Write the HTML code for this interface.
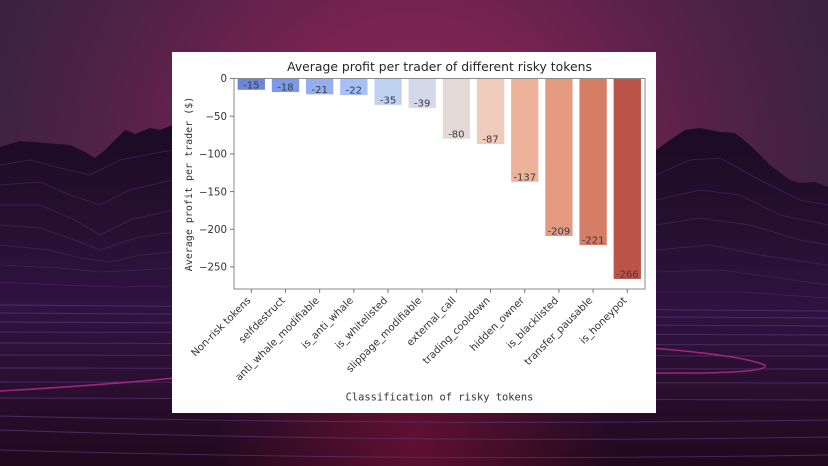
<!DOCTYPE html>
<html><head><meta charset="utf-8"><style>
html,body{margin:0;padding:0;background:#2a1030;}
svg{display:block;}
</style></head><body>
<svg width="828" height="466" viewBox="0 0 828 466" xmlns="http://www.w3.org/2000/svg">
<defs>
<radialGradient id="sky" cx="414" cy="170" r="470" gradientUnits="userSpaceOnUse">
<stop offset="0" stop-color="#922a5e"/>
<stop offset="0.35" stop-color="#74234f"/>
<stop offset="0.7" stop-color="#4e2246"/>
<stop offset="1" stop-color="#35223f"/>
</radialGradient>
<linearGradient id="mtn" x1="0" y1="0" x2="0" y2="1">
<stop offset="0" stop-color="#1c0b24"/>
<stop offset="0.5" stop-color="#24102e"/>
<stop offset="1" stop-color="#2e1340"/>
</linearGradient>
<linearGradient id="ground" x1="0" y1="0" x2="0" y2="1">
<stop offset="0" stop-color="#2f1444"/>
<stop offset="0.5" stop-color="#2a0f30"/>
<stop offset="1" stop-color="#22081c"/>
</linearGradient>
<radialGradient id="gglow" cx="414" cy="440" r="200" gradientUnits="userSpaceOnUse">
<stop offset="0" stop-color="#6a1232" stop-opacity="0.85"/>
<stop offset="1" stop-color="#6a1232" stop-opacity="0"/>
</radialGradient>
</defs>

<!-- background -->
<rect x="0" y="0" width="828" height="466" fill="url(#sky)"/>
<rect x="0" y="300" width="828" height="166" fill="url(#ground)"/>
<rect x="0" y="300" width="828" height="166" fill="url(#gglow)"/>
<!-- left mountain -->
<polygon fill="url(#mtn)" points="0,147 20,141 45,143 70,145 85,152 95,158 105,150 125,130 135,134 150,128 160,130 175,124 190,150 190,302 0,302"/>
<!-- right mountain -->
<polygon fill="url(#mtn)" points="640,160 656,150 670,140 685,130 700,128 720,132 735,133 750,145 770,165 790,180 800,183 815,182 828,187 828,312 640,312"/>
<!-- contour lines on mountains -->
<g fill="none" stroke="#4a2a62" stroke-width="0.8" opacity="0.7">
<polyline points="0,165 30,160 60,168 90,175 120,160 172,150"/>
<polyline points="0,185 40,182 70,195 100,205 130,190 172,180"/>
<polyline points="0,205 40,205 75,220 100,235 130,220 172,210"/>
<polyline points="0,225 40,228 75,240 100,250 135,238 172,232"/>
<polyline points="0,245 50,250 80,258 110,262 140,255 172,252"/>
<polyline points="0,265 60,268 100,272 140,270 172,268"/>
<polyline points="0,282 60,285 120,287 172,286"/>
<polyline points="656,175 690,160 720,158 760,180 800,200 828,205"/>
<polyline points="656,200 700,190 740,195 780,215 828,225"/>
<polyline points="656,225 700,218 750,225 800,240 828,245"/>
<polyline points="656,250 710,245 760,255 828,265"/>
<polyline points="656,272 720,270 780,278 828,285"/>
<polyline points="656,292 740,292 828,298"/>
</g>
<!-- ground lines -->
<g fill="none" stroke="#5e3c80" stroke-width="0.9" opacity="0.65">
<line x1="0" y1="305" x2="828" y2="311"/>
<line x1="0" y1="313" x2="828" y2="318"/>
<line x1="0" y1="322" x2="828" y2="326"/>
<line x1="0" y1="332" x2="828" y2="335"/>
<line x1="0" y1="343" x2="828" y2="345"/>
<line x1="0" y1="355" x2="828" y2="356"/>
<line x1="0" y1="368" x2="828" y2="369"/>
<line x1="0" y1="382" x2="828" y2="383"/>
<line x1="0" y1="398" x2="828" y2="400"/>
<path d="M0,416 Q414,426 828,420"/>
<path d="M0,430 Q414,444 828,437"/>
<path d="M0,450 Q414,462 828,455"/>
</g>
<!-- pink curves -->
<path d="M0,391 Q90,386 175,378" fill="none" stroke="#b42a8a" stroke-width="1.6" opacity="0.85"/>
<path d="M650,348 Q740,355 765,365 Q770,372 700,373 L650,373" fill="none" stroke="#b42a8a" stroke-width="1.4" opacity="0.85"/>

<!-- white panel -->
<rect x="172" y="52" width="484" height="361" fill="#ffffff"/>

<!-- bars -->
<g>
<rect x="237.65" y="78.5" width="27.3" height="11.3" fill="#6a86da"/>
<rect x="271.83" y="78.5" width="27.3" height="13.57" fill="#7d98e4"/>
<rect x="306.01" y="78.5" width="27.3" height="15.83" fill="#94aeef"/>
<rect x="340.19" y="78.5" width="27.3" height="16.58" fill="#a6bff5"/>
<rect x="374.37" y="78.5" width="27.3" height="26.38" fill="#c0d2f2"/>
<rect x="408.55" y="78.5" width="27.3" height="29.39" fill="#d3d9e8"/>
<rect x="442.73" y="78.5" width="27.3" height="60.3" fill="#e4dad5"/>
<rect x="476.91" y="78.5" width="27.3" height="65.57" fill="#f0cabb"/>
<rect x="511.09" y="78.5" width="27.3" height="103.26" fill="#ecb39a"/>
<rect x="545.27" y="78.5" width="27.3" height="157.52" fill="#e39a80"/>
<rect x="579.45" y="78.5" width="27.3" height="166.57" fill="#d67d66"/>
<rect x="613.63" y="78.5" width="27.3" height="200.48" fill="#bd5449"/>
</g>

<!-- bar labels -->
<g font-family="'DejaVu Sans','Liberation Sans',sans-serif" font-size="10" fill="#3a3a44" text-anchor="middle">
<text x="251.3" y="88.3">-15</text>
<text x="285.48" y="90.6">-18</text>
<text x="319.66" y="92.8">-21</text>
<text x="353.84" y="93.6">-22</text>
<text x="388.02" y="103.4">-35</text>
<text x="422.2" y="106.4">-39</text>
<text x="456.38" y="137.3">-80</text>
<text x="490.56" y="142.6">-87</text>
<text x="524.74" y="180.3">-137</text>
<text x="558.92" y="234.5">-209</text>
<text x="593.1" y="243.6">-221</text>
<text x="627.28" y="277.5">-266</text>
</g>

<!-- axes frame -->
<rect x="234" y="78.5" width="411" height="210.5" fill="none" stroke="#8a8a8a" stroke-width="1"/>

<!-- y ticks -->
<g stroke="#777" stroke-width="1">
<line x1="230" y1="78.5" x2="234" y2="78.5"/>
<line x1="230" y1="116.2" x2="234" y2="116.2"/>
<line x1="230" y1="153.9" x2="234" y2="153.9"/>
<line x1="230" y1="191.6" x2="234" y2="191.6"/>
<line x1="230" y1="229.2" x2="234" y2="229.2"/>
<line x1="230" y1="266.9" x2="234" y2="266.9"/>
</g>
<g font-family="'DejaVu Sans','Liberation Sans',sans-serif" font-size="10.2" fill="#333" text-anchor="end">
<text x="227" y="82.2">0</text>
<text x="227" y="119.9">−50</text>
<text x="227" y="157.6">−100</text>
<text x="227" y="195.3">−150</text>
<text x="227" y="232.9">−200</text>
<text x="227" y="270.6">−250</text>
</g>

<!-- x ticks -->
<g stroke="#777" stroke-width="1">
<line x1="251.3" y1="289" x2="251.3" y2="293"/>
<line x1="285.48" y1="289" x2="285.48" y2="293"/>
<line x1="319.66" y1="289" x2="319.66" y2="293"/>
<line x1="353.84" y1="289" x2="353.84" y2="293"/>
<line x1="388.02" y1="289" x2="388.02" y2="293"/>
<line x1="422.2" y1="289" x2="422.2" y2="293"/>
<line x1="456.38" y1="289" x2="456.38" y2="293"/>
<line x1="490.56" y1="289" x2="490.56" y2="293"/>
<line x1="524.74" y1="289" x2="524.74" y2="293"/>
<line x1="558.92" y1="289" x2="558.92" y2="293"/>
<line x1="593.1" y1="289" x2="593.1" y2="293"/>
<line x1="627.28" y1="289" x2="627.28" y2="293"/>
</g>
<g font-family="'DejaVu Sans','Liberation Sans',sans-serif" font-size="10.2" fill="#333" text-anchor="end">
<text transform="translate(251.3,301) rotate(-45)">Non-risk tokens</text>
<text transform="translate(285.48,301) rotate(-45)">selfdestruct</text>
<text transform="translate(319.66,301) rotate(-45)">anti_whale_modifiable</text>
<text transform="translate(353.84,301) rotate(-45)">is_anti_whale</text>
<text transform="translate(388.02,301) rotate(-45)">is_whitelisted</text>
<text transform="translate(422.2,301) rotate(-45)">slippage_modifiable</text>
<text transform="translate(456.38,301) rotate(-45)">external_call</text>
<text transform="translate(490.56,301) rotate(-45)">trading_cooldown</text>
<text transform="translate(524.74,301) rotate(-45)">hidden_owner</text>
<text transform="translate(558.92,301) rotate(-45)">is_blacklisted</text>
<text transform="translate(593.1,301) rotate(-45)">transfer_pausable</text>
<text transform="translate(627.28,301) rotate(-45)">is_honeypot</text>
</g>

<!-- title -->
<text x="439.5" y="71" font-family="'DejaVu Sans','Liberation Sans',sans-serif" font-size="12.4" fill="#262626" text-anchor="middle">Average profit per trader of different risky tokens</text>

<!-- axis labels -->
<text transform="translate(192,184) rotate(-90)" font-family="'DejaVu Sans Mono','Liberation Mono',monospace" font-size="10" fill="#333" text-anchor="middle">Average profit per trader ($)</text>
<text x="439.5" y="400.5" font-family="'DejaVu Sans Mono','Liberation Mono',monospace" font-size="10.4" fill="#333" text-anchor="middle">Classification of risky tokens</text>
</svg>
</body></html>
